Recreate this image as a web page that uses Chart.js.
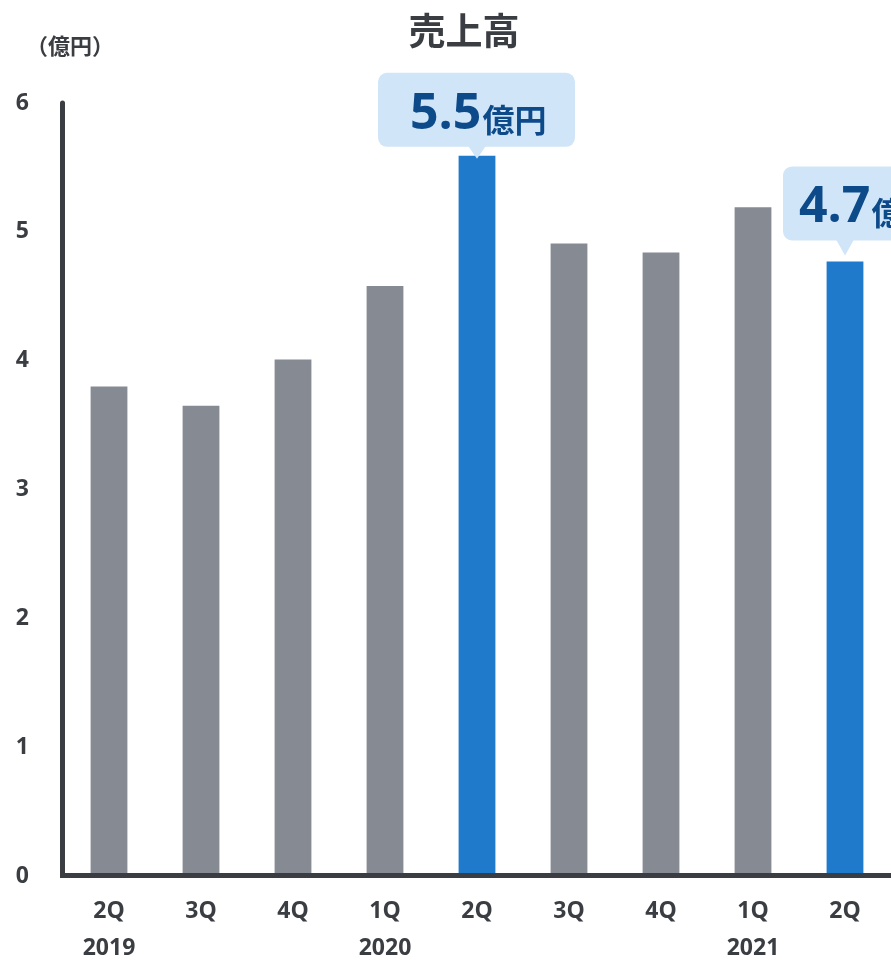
<!DOCTYPE html>
<html lang="ja">
<head>
<meta charset="utf-8">
<title>売上高</title>
<script src="https://cdn.jsdelivr.net/npm/chart.js@4/dist/chart.umd.min.js"></script>
<style>
  html, body { margin: 0; padding: 0; background: #fff; }
  #wrap { width: 891px; height: 960px; position: relative; }
</style>
</head>
<body>
<div id="wrap"><canvas id="myChart"></canvas></div>
<script>
// datos del gráfico
const quarters = ["2Q", "3Q", "4Q", "1Q", "2Q", "3Q", "4Q", "1Q", "2Q"];
const years = ["2019", "", "", "2020", "", "", "", "2021", ""];
const sales = [3.8, 3.65, 4.01, 4.58, 5.59, 4.91, 4.84, 5.19, 4.77];
const highlight = [false, false, false, false, true, false, false, false, true];
const calloutValues = ["", "", "", "", "5.5", "", "", "", "4.7"];
const calloutUnit = "億円";
const titleText = "売上高";
const unitText = "（億円）";
const yMin = 0;
const yMax = 6;

const grayBar = "#858a93";
const blueBar = "#1f7acc";
const darkText = "#3a3d42";
const calloutBg = "#d0e5f8";
const calloutText = "#0d4a8a";
const fontFamily = "'Open Sans', 'Noto Sans', 'Noto Sans CJK JP', sans-serif";
const cjkFamily = "'Noto Sans CJK JP', 'Noto Sans', sans-serif";

const labels = quarters.map((q, i) => (years[i] ? [q, years[i]] : q));

// título y unidad
const textPlugin = {
  id: "textPlugin",
  afterDraw(chart) {
    const ctx = chart.ctx;
    ctx.save();
    ctx.fillStyle = darkText;
    ctx.textAlign = "center";
    ctx.textBaseline = "middle";
    ctx.font = "bold 37px " + cjkFamily;
    ctx.fillText(titleText, 464, 31);
    ctx.font = "bold 22px " + cjkFamily;
    ctx.fillText(unitText, 70, 46);
    ctx.restore();
  },
};

// ejes dibujados a mano (líneas gruesas)
const axisPlugin = {
  id: "axisPlugin",
  afterDatasetsDraw(chart) {
    const { ctx, chartArea } = chart;
    ctx.save();
    ctx.strokeStyle = darkText;
    ctx.lineWidth = 5;
    ctx.lineCap = "round";
    ctx.beginPath();
    ctx.moveTo(chartArea.left - 0.5, chartArea.top);
    ctx.lineTo(chartArea.left - 0.5, chartArea.bottom - 2);
    ctx.stroke();
    ctx.lineCap = "butt";
    ctx.beginPath();
    ctx.moveTo(chartArea.left - 3, chartArea.bottom - 0.5);
    ctx.lineTo(chartArea.right, chartArea.bottom - 0.5);
    ctx.stroke();
    ctx.restore();
  },
};

// globos con el valor destacado (desplazamiento relativo a la barra)
const calloutLayout = {
  4: { boxLeft: -99, textLeft: -67, boxTop: -83, tip: 3 },
  8: { boxLeft: -62, textLeft: -46, boxTop: -95, tip: -6 },
};

const calloutPlugin = {
  id: "calloutPlugin",
  afterDatasetsDraw(chart) {
    const ctx = chart.ctx;
    const meta = chart.getDatasetMeta(0);
    ctx.save();
    calloutValues.forEach((val, i) => {
      if (!val) return;
      const lay = calloutLayout[i];
      const bar = meta.data[i];
      const x = bar.x;
      const boxH = 74;
      const boxW = 197;
      const boxTop = bar.y + lay.boxTop;
      const boxBottom = boxTop + boxH;
      const tip = bar.y + lay.tip;
      ctx.fillStyle = calloutBg;
      ctx.beginPath();
      ctx.roundRect(x + lay.boxLeft, boxTop, boxW, boxH, 9);
      ctx.fill();
      ctx.beginPath();
      ctx.moveTo(x - 9, boxBottom - 1);
      ctx.lineTo(x + 9, boxBottom - 1);
      ctx.lineTo(x, tip);
      ctx.closePath();
      ctx.fill();

      ctx.fillStyle = calloutText;
      ctx.textBaseline = "alphabetic";
      ctx.textAlign = "left";
      const start = x + lay.textLeft;
      const baseline = boxTop + 56;
      ctx.font = "bold 50px " + fontFamily;
      const w1 = ctx.measureText(val).width;
      ctx.fillText(val, start, baseline);
      ctx.font = "bold 32px " + cjkFamily;
      ctx.fillText(calloutUnit, start + w1 + 1, baseline + 3);
    });
    ctx.restore();
  },
};

const config = {
  type: "bar",
  data: {
    labels: labels,
    datasets: [
      {
        data: sales,
        backgroundColor: sales.map((v, i) => (highlight[i] ? blueBar : grayBar)),
        barPercentage: 0.4,
        categoryPercentage: 1,
      },
    ],
  },
  options: {
    responsive: true,
    maintainAspectRatio: false,
    animation: false,
    devicePixelRatio: 1,
    layout: { padding: { top: 103, left: 0, right: 0, bottom: 0 } },
    plugins: {
      legend: { display: false },
      title: { display: false },
      tooltip: { enabled: false },
    },
    scales: {
      x: {
        grid: { display: false, drawTicks: false },
        border: { display: false },
        ticks: {
          color: darkText,
          padding: 16,
          maxRotation: 0,
          font: { family: fontFamily, size: 23, weight: "bold", lineHeight: 1.65 },
        },
        afterFit(scale) {
          scale.height = 84;
        },
      },
      y: {
        min: yMin,
        max: yMax,
        grid: { display: false, drawTicks: false },
        border: { display: false },
        ticks: {
          stepSize: 1,
          color: darkText,
          padding: 34,
          font: { family: fontFamily, size: 23, weight: "bold" },
        },
        afterFit(scale) {
          scale.width = 63;
        },
      },
    },
  },
  plugins: [axisPlugin, calloutPlugin, textPlugin],
};

const myChart = document.getElementById("myChart");
const chart = new Chart(myChart, config);
</script>
</body>
</html>
